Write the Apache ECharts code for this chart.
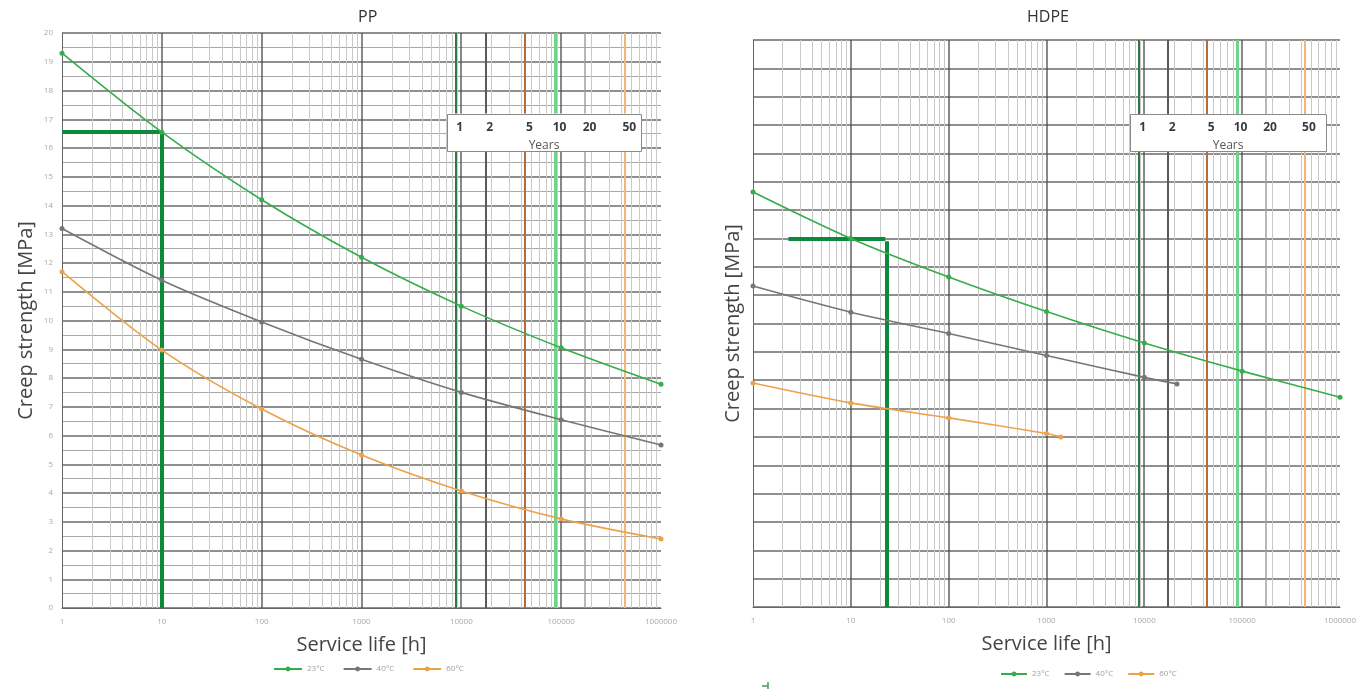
<!DOCTYPE html>
<html>
<head>
<meta charset="utf-8">
<title>Creep strength PP / HDPE</title>
<script src="https://cdn.jsdelivr.net/npm/echarts@6/dist/echarts.min.js"></script>
<style>
  html, body { margin: 0; padding: 0; background: #ffffff; }
  #chart { width: 1360px; height: 691px; }
</style>
</head>
<body>
<div id="chart"></div>
<script>
// ---- data ---------------------------------------------------------------
const hours = [1, 10, 100, 1000, 10000, 100000, 1000000];
const xTickLabels = ['1', '10', '100', '1000', '10000', '100000', '1000000'];
const seriesNames = ['23°C', '40°C', '60°C'];

// PP creep strength [MPa]
const pp23 = [19.3, 16.55, 14.2, 12.2, 10.5, 9.05, 7.78];
const pp40 = [13.2, 11.4, 9.95, 8.65, 7.5, 6.55, 5.67];
const pp60 = [11.7, 8.97, 6.92, 5.32, 4.07, 3.1, 2.4];

// HDPE creep strength [MPa]
const hdpe23Hours = [1, 10, 100, 1000, 10000, 100000, 1000000];
const hdpe23 = [14.64, 13.0, 11.64, 10.42, 9.31, 8.32, 7.4];
const hdpe40Hours = [1, 10, 100, 1000, 10000, 21600];
const hdpe40 = [11.32, 10.4, 9.65, 8.87, 8.1, 7.87];
const hdpe60Hours = [1, 10, 100, 1000, 1400];
const hdpe60 = [7.9, 7.2, 6.67, 6.12, 6.0];

// reading guides (service life -> strength)
const ppGuideH = [[1, 16.55], [10, 16.55]];
const ppGuideV = [[10, 16.55], [10, 0]];
const hdpeGuideH = [[2.3, 13.0], [22.5, 13.0]];
const hdpeGuideV = [[23.5, 12.9], [23.5, 0]];

// service-life markers in years
const yearsMarked = [1, 2, 5, 10, 20, 50];
const HOURS_PER_YEAR = 8760;

// ---- layout of the "Years" boxes (in axis units) -------------------------
const Y_MIN = 0, Y_MAX = 20;
const ppBox = { x0: 7200, x1: 630000, yTop: 17.2, yBottom: 15.9, yNumbers: 16.72, yCaption: 16.07, shift: 1.1 };
const hdpeBox = { x0: 7160, x1: 720000, yTop: 17.39, yBottom: 16.08, yNumbers: 16.92, yCaption: 16.27, shift: 1.1 };

// ---- styling ------------------------------------------------------------
const COLORS = ['#35ad4b', '#767676', '#eba24a'];
const GUIDE_COLOR = '#0b8a3c';
const YEAR_LINE_STYLES = [
  { color: '#2f7a44', width: 2 },
  { color: '#5a5a5a', width: 2 },
  { color: '#b46d38', width: 2 },
  { color: '#6fd38a', width: 3 },
  { color: '#a0a0a0', width: 1.5 },
  { color: '#f2b57a', width: 2 }
];
const MINOR_STYLE = { color: '#c9c9c9', width: 1 };
const DECADE_STYLE = { color: '#4a4a4a', width: 1.3 };
const FONT = '"Open Sans", "Noto Sans", sans-serif';

// log grid positions: 2..9 within each decade, and the decades themselves
const minorHours = [];
const decadeHours = [];
for (let d = 1; d < 1000000; d *= 10) {
  if (d > 1) decadeHours.push(d);
  for (let m = 2; m <= 9; m++) minorHours.push(m * d);
}

function zip(xs, ys) { return xs.map((x, i) => [x, ys[i]]); }

function xAxisFor(gridIndex) {
  return {
    type: 'log', logBase: 10, gridIndex: gridIndex, min: 1, max: 1000000,
    name: 'Service life [h]', nameLocation: 'middle', nameGap: 27,
    nameTextStyle: { fontSize: 20, color: '#444', fontFamily: FONT },
    axisLine: { show: true, onZero: false, lineStyle: { color: '#666', width: 1 } },
    axisTick: { show: false },
    axisLabel: {
      color: '#a8a8a8', fontSize: 8, margin: 10, fontFamily: FONT,
      formatter: v => xTickLabels[Math.round(Math.log10(v))] || ''
    },
    splitLine: { show: false }
  };
}

function yAxisFor(gridIndex, showLabels, halfLines) {
  return {
    type: 'value', gridIndex: gridIndex, min: Y_MIN, max: Y_MAX, interval: 1,
    name: 'Creep strength [MPa]', nameLocation: 'middle',
    nameGap: showLabels ? 26 : 10,
    nameTextStyle: { fontSize: 20, color: '#444', fontFamily: FONT },
    axisLine: { show: true, lineStyle: { color: '#666', width: 1 } },
    axisTick: { show: false },
    axisLabel: { show: showLabels, color: '#a8a8a8', fontSize: 8, margin: 9, fontFamily: FONT },
    splitLine: { show: true, lineStyle: { color: '#6a6a6a', width: 1.6 } },
    minorTick: { show: false, splitNumber: 2 },
    minorSplitLine: { show: halfLines, lineStyle: { color: '#a9a9a9', width: 1.2 } }
  };
}

function curve(name, data, color, gi) {
  return {
    name: name, type: 'line', xAxisIndex: gi, yAxisIndex: gi,
    data: data, smooth: 0.3, symbol: 'circle', symbolSize: 5,
    lineStyle: { color: color, width: 1.6 },
    itemStyle: { color: color },
    z: 6
  };
}

// vertical log grid and year lines (interrupted by the white "Years" box), then the box
function gridLayer(gi, box) {
  return {
    name: 'grid-' + gi, type: 'custom', xAxisIndex: gi, yAxisIndex: gi,
    silent: true, z: 1, clip: false,
    encode: { x: [0, 2], y: [1, 3] },
    data: [[box.x0, box.yTop, box.x1, box.yBottom]],
    renderItem: function (params, api) {
      const children = [];
      const p0 = api.coord([api.value(0), api.value(1)]);
      const p1 = api.coord([api.value(2), api.value(3)]);
      const seg = (px, y1, y2, st) => children.push({
        type: 'line',
        shape: { x1: px, y1: y1, x2: px, y2: y2 },
        style: { stroke: st.color, lineWidth: st.width }
      });
      const vline = (x, st) => {
        const a = api.coord([x, Y_MIN]);
        const b = api.coord([x, Y_MAX]);
        const px = Math.round(a[0]) + (st.width % 2 === 1 ? 0.5 : 0);
        if (a[0] > p0[0] && a[0] < p1[0]) {
          seg(px, a[1], p1[1], st);
          seg(px, p0[1], b[1], st);
        } else {
          seg(px, a[1], b[1], st);
        }
      };
      minorHours.forEach(h => vline(h, MINOR_STYLE));
      decadeHours.forEach(h => vline(h, DECADE_STYLE));
      yearsMarked.forEach((y, i) => vline(y * HOURS_PER_YEAR, YEAR_LINE_STYLES[i]));

      children.push({
        type: 'rect', z2: 50,
        shape: { x: Math.round(p0[0]) + 0.5, y: Math.round(p0[1]) + 0.5,
                 width: Math.round(p1[0] - p0[0]), height: Math.round(p1[1] - p0[1]) },
        style: { fill: '#ffffff', stroke: '#8a8a8a', lineWidth: 1 }
      });
      yearsMarked.forEach(y => {
        const p = api.coord([y * HOURS_PER_YEAR * box.shift, box.yNumbers]);
        children.push({
          type: 'text', z2: 60,
          style: {
            text: String(y), x: p[0], y: p[1], align: 'center', verticalAlign: 'middle',
            font: 'bold 12px ' + FONT, fill: '#3a3a3a'
          }
        });
      });
      const py = api.coord([1, box.yCaption]);
      children.push({
        type: 'text', z2: 60,
        style: {
          text: 'Years', x: (p0[0] + p1[0]) / 2, y: py[1], align: 'center', verticalAlign: 'middle',
          font: '12px ' + FONT, fill: '#555'
        }
      });
      return { type: 'group', children: children };
    }
  };
}

function guide(gi, segA, segB) {
  return {
    name: 'guide-' + gi, type: 'line', xAxisIndex: gi, yAxisIndex: gi,
    data: [], silent: true, z: 7,
    markLine: {
      silent: true, symbol: 'none', animation: false,
      label: { show: false },
      lineStyle: { color: GUIDE_COLOR, width: 4, type: 'solid' },
      data: [
        [{ coord: segA[0] }, { coord: segA[1] }],
        [{ coord: segB[0] }, { coord: segB[1] }]
      ]
    }
  };
}

const chart = echarts.init(document.getElementById('chart'), null, { renderer: 'canvas' });

const legendText = { fontSize: 8, color: '#a0a0a0', fontFamily: FONT };

chart.setOption({
  animation: false,
  backgroundColor: '#ffffff',
  grid: [
    { left: 62, top: 33, width: 599, height: 575, containLabel: false },
    { left: 753, top: 40, width: 587, height: 567, containLabel: false }
  ],
  xAxis: [xAxisFor(0), xAxisFor(1)],
  yAxis: [yAxisFor(0, true, true), yAxisFor(1, false, false)],
  legend: [
    {
      data: seriesNames, left: 268, top: 660, itemWidth: 28, itemHeight: 6, itemGap: 18,
      textStyle: legendText, selectedMode: false
    },
    {
      data: seriesNames, left: 995, top: 665, itemWidth: 26, itemHeight: 6, itemGap: 14,
      textStyle: legendText, selectedMode: false
    }
  ],
  graphic: [
    { type: 'text', left: 358, top: 9, style: { text: 'PP', font: '16px ' + FONT, fill: '#333' } },
    { type: 'text', left: 1027, top: 9, style: { text: 'HDPE', font: '16px ' + FONT, fill: '#333' } },
    { type: 'line', shape: { x1: 768, y1: 682, x2: 768, y2: 689 }, style: { stroke: '#3aa056', lineWidth: 1.5 } },
    { type: 'line', shape: { x1: 762, y1: 686, x2: 768, y2: 686 }, style: { stroke: '#3aa056', lineWidth: 1.5 } }
  ],
  series: [
    gridLayer(0, ppBox),
    gridLayer(1, hdpeBox),
    curve(seriesNames[0], zip(hours, pp23), COLORS[0], 0),
    curve(seriesNames[1], zip(hours, pp40), COLORS[1], 0),
    curve(seriesNames[2], zip(hours, pp60), COLORS[2], 0),
    curve(seriesNames[0], zip(hdpe23Hours, hdpe23), COLORS[0], 1),
    curve(seriesNames[1], zip(hdpe40Hours, hdpe40), COLORS[1], 1),
    curve(seriesNames[2], zip(hdpe60Hours, hdpe60), COLORS[2], 1),
    guide(0, ppGuideH, ppGuideV),
    guide(1, hdpeGuideH, hdpeGuideV)
  ]
});
</script>
</body>
</html>
